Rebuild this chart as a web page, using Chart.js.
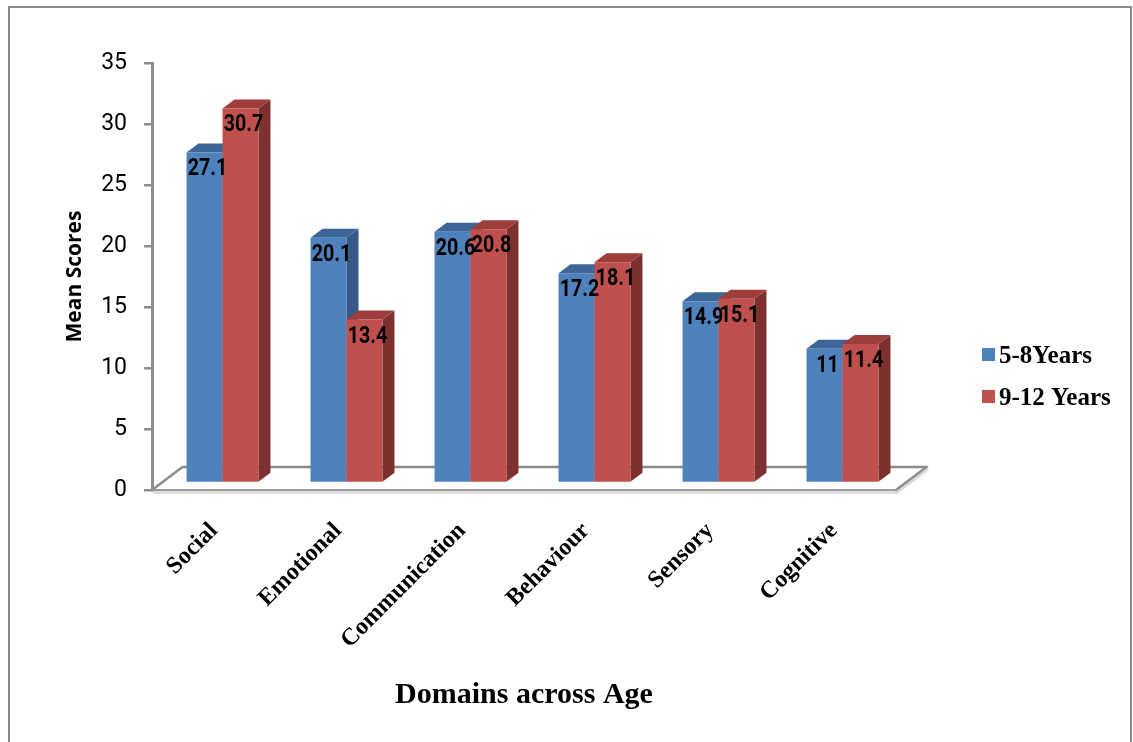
<!DOCTYPE html>
<html>
<head>
<meta charset="utf-8">
<script src="https://cdn.jsdelivr.net/npm/chart.js@4.4.1/dist/chart.umd.min.js"></script>
<style>
  html, body { margin: 0; padding: 0; background: #fff; }
  #wrap { position: relative; width: 1133px; height: 742px; overflow: hidden; }
  #frame { position: absolute; left: 8px; top: 6px; width: 1124px; height: 780px;
           border: 2px solid #8a8a8a; box-sizing: border-box; }
  canvas { position: absolute; left: 0; top: 0; }
</style>
</head>
<body>
<div id="wrap">
  <div id="frame"></div>
  <canvas id="chart" width="1133" height="742"></canvas>
</div>
<script>
// ---- data ----
const domains = ['Social', 'Emotional', 'Communication', 'Behaviour', 'Sensory', 'Cognitive'];
const ages5to8 = [27.1, 20.1, 20.6, 17.2, 14.9, 11];
const ages9to12 = [30.7, 13.4, 20.8, 18.1, 15.1, 11.4];
const seriesNames = ['5-8Years', '9-12 Years'];
const scoreTicks = [0, 5, 10, 15, 20, 25, 30, 35];

// ---- fonts ----
function fontExists(name) {
  const c = document.createElement('canvas').getContext('2d');
  const probe = '0123456789.MmWw';
  c.font = '40px monospace';
  const a = c.measureText(probe).width;
  c.font = '40px "' + name + '", monospace';
  return c.measureText(probe).width !== a;
}
const HAS_NARROW = fontExists('Liberation Sans Narrow');
const NARROW = HAS_NARROW ? '"Liberation Sans Narrow"' : 'Roboto';
const SQUEEZE = HAS_NARROW ? 1 : 0.82;   // horizontal condensing for value labels
const SERIF = '"Liberation Serif", "Times New Roman", serif';

// ---- 3D look ----
const palette = [
  { front: '#4F81BD', top: '#3D6698', side: '#365A87' },
  { front: '#C0504D', top: '#9E3E3B', side: '#7E302E' }
];
const FRONT = { dx: 8.5, dy: -7 };    // bar front plane, relative to the axis plane
const DEPTH = { dx: 12, dy: -9 };     // bar depth
const FLOOR = { dx: 30.5, dy: -23 };  // floor depth

function poly(ctx, pts, color) {
  ctx.beginPath();
  ctx.moveTo(pts[0][0], pts[0][1]);
  for (let i = 1; i < pts.length; i++) ctx.lineTo(pts[i][0], pts[i][1]);
  ctx.closePath();
  ctx.fillStyle = color;
  ctx.fill();
}
function line(ctx, x1, y1, x2, y2, color, w) {
  ctx.beginPath();
  ctx.moveTo(x1, y1);
  ctx.lineTo(x2, y2);
  ctx.strokeStyle = color;
  ctx.lineWidth = w;
  ctx.stroke();
}

const boxes3d = {
  id: 'boxes3d',
  beforeDatasetsDraw(chart) {
    const { ctx, chartArea: a } = chart;
    const y0 = chart.scales.y.getPixelForValue(0);
    ctx.save();
    ctx.lineCap = 'round';
    // floor edge shading
    line(ctx, a.left + 2, y0 + 2.5, a.right + 1, y0 + 2.5, '#d9d9d9', 2.5);
    line(ctx, a.right + 1, y0 + 2.5, a.right + FLOOR.dx + 1, y0 + FLOOR.dy + 2.5, '#d9d9d9', 2.5);
    // floor outline
    line(ctx, a.left + FLOOR.dx, y0 + FLOOR.dy, a.right + FLOOR.dx, y0 + FLOOR.dy, '#8c8c8c', 2.5);
    line(ctx, a.left, y0, a.left + FLOOR.dx, y0 + FLOOR.dy, '#8c8c8c', 2.5);
    line(ctx, a.right, y0, a.right + FLOOR.dx, y0 + FLOOR.dy, '#8c8c8c', 2.5);
    line(ctx, a.left, y0, a.right, y0, '#9a9a9a', 2);
    ctx.restore();
  },
  beforeDatasetDraw() {
    return false; // bars are painted as boxes below
  },
  afterDatasetsDraw(chart) {
    const { ctx } = chart;
    ctx.save();
    chart.data.datasets.forEach((ds, di) => {
      const col = palette[di];
      chart.getDatasetMeta(di).data.forEach((bar) => {
        const p = bar.getProps(['x', 'y', 'base', 'width'], true);
        const L = p.x - p.width / 2 + FRONT.dx;
        const R = p.x + p.width / 2 + FRONT.dx;
        const T = p.y + FRONT.dy;
        const B = p.base + FRONT.dy;
        poly(ctx, [[R, T], [R + DEPTH.dx, T + DEPTH.dy], [R + DEPTH.dx, B + DEPTH.dy], [R, B]], col.side);
        poly(ctx, [[L, T], [R, T], [R + DEPTH.dx, T + DEPTH.dy], [L + DEPTH.dx, T + DEPTH.dy]], col.top);
        poly(ctx, [[L, T], [R, T], [R, B], [L, B]], col.front);
      });
    });
    // value labels
    ctx.font = 'bold 24px ' + NARROW;
    ctx.fillStyle = '#000';
    ctx.textAlign = 'center';
    ctx.textBaseline = 'middle';
    chart.data.datasets.forEach((ds, di) => {
      chart.getDatasetMeta(di).data.forEach((bar, i) => {
        const p = bar.getProps(['x', 'y'], true);
        ctx.save();
        ctx.translate(p.x + FRONT.dx + 3, p.y + FRONT.dy + 17);
        ctx.scale(SQUEEZE, 1);
        ctx.fillText(String(ds.data[i]), 0, 0);
        ctx.restore();
      });
    });
    ctx.restore();
  },
  afterDraw(chart) {
    // legend
    const { ctx, chartArea: a } = chart;
    ctx.save();
    const x = a.right + 86;
    let y = a.bottom - 142;
    ctx.font = 'bold 25px ' + SERIF;
    ctx.textAlign = 'left';
    ctx.textBaseline = 'alphabetic';
    chart.data.datasets.forEach((ds, di) => {
      ctx.fillStyle = palette[di].front;
      ctx.fillRect(x, y, 13, 13);
      ctx.fillStyle = '#000';
      ctx.fillText(ds.label, x + 17, y + 15);
      y += 42;
    });
    ctx.restore();
  }
};

new Chart(document.getElementById('chart'), {
  type: 'bar',
  data: {
    labels: domains,
    datasets: [
      { label: seriesNames[0], data: ages5to8, backgroundColor: palette[0].front },
      { label: seriesNames[1], data: ages9to12, backgroundColor: palette[1].front }
    ]
  },
  plugins: [boxes3d],
  options: {
    responsive: false,
    animation: false,
    layout: { padding: { top: 63, right: 237, bottom: 0, left: 0 } },
    datasets: { bar: { categoryPercentage: 0.58, barPercentage: 1 } },
    plugins: { legend: { display: false }, tooltip: { enabled: false } },
    scales: {
      x: {
        grid: { display: false, drawTicks: false },
        border: { display: false },
        ticks: {
          autoSkip: false,
          minRotation: 45,
          maxRotation: 45,
          padding: 27,
          color: '#000',
          font: { family: SERIF, size: 24, weight: 'bold' }
        },
        title: {
          display: true,
          text: 'Domains across Age',
          color: '#000',
          font: { family: SERIF, size: 30, weight: 'bold' },
          padding: { top: 0, bottom: 29 }
        },
        afterFit(scale) { scale.height = 252; }
      },
      y: {
        min: 0,
        max: 35,
        afterBuildTicks(scale) { scale.ticks = scoreTicks.map(v => ({ value: v })); },
        grid: { drawOnChartArea: false, drawTicks: true, tickLength: 8, color: '#8c8c8c', lineWidth: 2.5 },
        border: { display: true, color: '#8c8c8c', width: 3 },
        ticks: {
          padding: 17,
          color: '#000',
          font: { family: NARROW, size: 23 }
        },
        title: {
          display: true,
          text: 'Mean Scores',
          color: '#000',
          font: { family: '"Open Sans"', size: 21, weight: 'bold' },
          padding: { top: 62, bottom: 0 }
        },
        afterFit(scale) { scale.width = 152; }
      }
    }
  }
});
</script>
</body>
</html>
